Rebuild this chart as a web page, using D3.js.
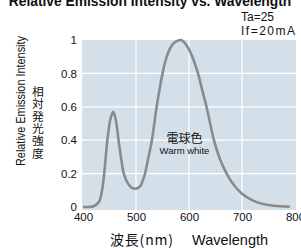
<!DOCTYPE html>
<html>
  <head>
    <meta charset="utf-8">
    <style>
      html, body {
        margin: 0px;
        padding: 0px;
        background: #fff;
      }
      svg {
        display: block;
      }
      text {
        font-family: "Liberation Sans", Arial, sans-serif;
        fill: #111;
      }
      .jp {
        font-family: "Noto Sans CJK JP", sans-serif;
      }
    </style>
  </head>
  <body>
    <svg id="chart" width="301" height="248"></svg>
    <script src="https://cdnjs.cloudflare.com/ajax/libs/d3/7.8.5/d3.min.js"></script>
    <script>
      // spectrum (nm -> relative intensity)
      var wavelengths = [400, 420, 430, 436, 440, 446, 452, 457, 462, 467, 472, 477, 485, 492, 500,
        508, 513, 517, 523, 530, 539, 550, 558, 566, 575, 585, 595, 605, 612, 617, 625, 633,
        640, 647, 658, 671, 685, 700, 720, 740, 760, 790];
      var intensity = [0, 0.005, 0.03, 0.1, 0.2, 0.4, 0.53, 0.57, 0.52, 0.4, 0.29, 0.2, 0.14, 0.115, 0.11,
        0.125, 0.16, 0.2, 0.29, 0.4, 0.6, 0.8, 0.9, 0.96, 0.99, 1.0, 0.97, 0.91, 0.85, 0.8, 0.7, 0.6,
        0.5, 0.4, 0.29, 0.2, 0.13, 0.08, 0.04, 0.018, 0.007, 0.002];
      var xTicks = [400, 500, 600, 700, 800];
      var yTicks = [0, 0.2, 0.4, 0.6, 0.8, 1];

      var svg = d3.select('#chart');
      var x = d3.scaleLinear().domain([400, 800]).range([83, 295]);
      var y = d3.scaleLinear().domain([0, 1]).range([207, 40]);

      // plot background
      svg.append('rect')
        .attr('x', 82).attr('y', 40)
        .attr('width', 214).attr('height', 170)
        .attr('fill', '#d3e0ea');

      // grid
      svg.append('g').selectAll('line')
        .data(xTicks.slice(1, -1))
        .enter().append('line')
        .attr('x1', function(d) { return x(d); })
        .attr('x2', function(d) { return x(d); })
        .attr('y1', 40).attr('y2', 210)
        .attr('stroke', '#fff').attr('stroke-width', 1.2);
      svg.append('g').selectAll('line')
        .data(yTicks.slice(1, -1))
        .enter().append('line')
        .attr('x1', 82).attr('x2', 296)
        .attr('y1', function(d) { return y(d); })
        .attr('y2', function(d) { return y(d); })
        .attr('stroke', '#fff').attr('stroke-width', 1.2);

      // axes (labels only)
      var yAxis = svg.append('g')
        .attr('transform', 'translate(82,0)')
        .call(d3.axisLeft(y).tickValues(yTicks).tickSize(0).tickPadding(5)
          .tickFormat(function(d) { return d === 1 ? '1' : d3.format('.1~f')(d); }));
      yAxis.select('.domain').remove();
      yAxis.selectAll('text').attr('font-size', 11.5).attr('fill', '#111')
        .attr('font-family', '"Liberation Sans", Arial, sans-serif');

      var xAxis = svg.append('g')
        .attr('transform', 'translate(0,210)')
        .call(d3.axisBottom(x).tickValues(xTicks).tickSize(0).tickPadding(3));
      xAxis.select('.domain').remove();
      xAxis.selectAll('text').attr('font-size', 11.5).attr('fill', '#111')
        .attr('font-family', '"Liberation Sans", Arial, sans-serif');

      // curve
      var line = d3.line()
        .x(function(d, i) { return x(wavelengths[i]); })
        .y(function(d) { return y(d); })
        .curve(d3.curveCatmullRom.alpha(0.5));
      svg.append('path')
        .datum(intensity)
        .attr('d', line)
        .attr('fill', 'none')
        .attr('stroke', '#8a8a8a')
        .attr('stroke-width', 2.6);

      // titles
      svg.append('text')
        .attr('x', 150).attr('y', 6)
        .attr('text-anchor', 'middle')
        .attr('font-size', 13.8).attr('font-weight', 'bold')
        .text('Relative Emission Intensity vs. Wavelength');
      svg.append('text')
        .attr('x', 241).attr('y', 21)
        .attr('font-size', 12)
        .attr('textLength', 33).attr('lengthAdjust', 'spacing')
        .text('Ta=25');
      svg.append('text')
        .attr('x', 241).attr('y', 35)
        .attr('font-size', 12)
        .attr('textLength', 54).attr('lengthAdjust', 'spacing')
        .text('If=20mA');

      svg.append('text')
        .attr('transform', 'translate(25,101) rotate(-90)')
        .attr('text-anchor', 'middle')
        .attr('font-size', 13.5)
        .attr('textLength', 130).attr('lengthAdjust', 'spacingAndGlyphs')
        .text('Relative Emission Intensity');

      svg.append('g').selectAll('text')
        .data('相対発光強度'.split(''))
        .enter().append('text')
        .attr('class', 'jp')
        .attr('x', 38)
        .attr('y', function(d, i) { return 96 + i * 12.3; })
        .attr('text-anchor', 'middle')
        .attr('font-size', 11.8)
        .text(function(d) { return d; });

      svg.append('text')
        .attr('class', 'jp')
        .attr('x', 110).attr('y', 245)
        .attr('font-size', 14)
        .attr('textLength', 63).attr('lengthAdjust', 'spacing')
        .text('波長(nm)');
      svg.append('text')
        .attr('x', 192).attr('y', 245)
        .attr('font-size', 14.5)
        .text('Wavelength');

      svg.append('text')
        .attr('class', 'jp')
        .attr('x', 184.5).attr('y', 143)
        .attr('text-anchor', 'middle')
        .attr('font-size', 12)
        .text('電球色');
      svg.append('text')
        .attr('x', 184.5).attr('y', 153.5)
        .attr('text-anchor', 'middle')
        .attr('font-size', 9.5)
        .text('Warm white');
    </script>
  </body>
</html>
